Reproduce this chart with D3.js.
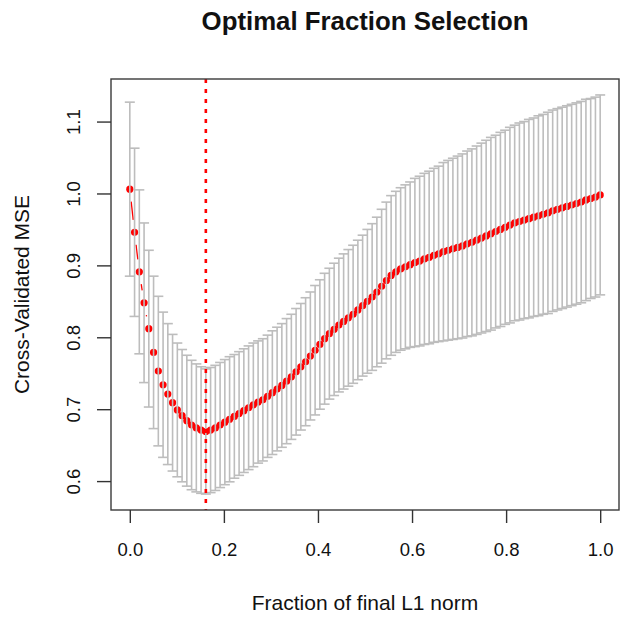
<!DOCTYPE html>
<html>
<head>
<meta charset="utf-8">
<script src="https://cdn.jsdelivr.net/npm/d3@7"></script>
<style>
  html, body { margin: 0; padding: 0; background: #fff; }
  svg { display: block; }
  text { font-family: "Liberation Sans", Arial, Helvetica, sans-serif; fill: #111; }
</style>
</head>
<body>
<svg id="chart" width="620" height="618"></svg>
<script>
// ---- data ----
const title = "Optimal Fraction Selection";
const xLabel = "Fraction of final L1 norm";
const yLabel = "Cross-Validated MSE";
const nPoints = 100;
const fractions = d3.range(nPoints).map(i => i / (nPoints - 1));
const cvMean = [
  1.006, 0.946, 0.891, 0.848, 0.812, 0.779, 0.753, 0.734, 0.721, 0.709,
  0.699, 0.691, 0.684, 0.678, 0.674, 0.671, 0.669, 0.671, 0.674, 0.678,
  0.682, 0.686, 0.690, 0.694, 0.698, 0.702, 0.706, 0.710, 0.713, 0.718,
  0.723, 0.728, 0.733, 0.739, 0.745, 0.752, 0.759, 0.766, 0.774, 0.782,
  0.790, 0.798, 0.805, 0.811, 0.817, 0.822, 0.827, 0.832, 0.838, 0.844,
  0.850, 0.856, 0.863, 0.871, 0.879, 0.886, 0.891, 0.895, 0.898, 0.901,
  0.904, 0.906, 0.909, 0.911, 0.914, 0.916, 0.919, 0.921, 0.923, 0.925,
  0.927, 0.930, 0.932, 0.935, 0.938, 0.941, 0.944, 0.947, 0.950, 0.953,
  0.956, 0.959, 0.961, 0.963, 0.965, 0.967, 0.969, 0.971, 0.973, 0.976,
  0.978, 0.980, 0.982, 0.984, 0.986, 0.988, 0.991, 0.993, 0.995, 0.998
];
const cvError = [
  0.121, 0.117, 0.114, 0.111, 0.109, 0.106, 0.104, 0.101, 0.098, 0.095,
  0.093, 0.092, 0.091, 0.090, 0.089, 0.088, 0.087, 0.087, 0.087, 0.087,
  0.087, 0.087, 0.086, 0.086, 0.086, 0.086, 0.086, 0.085, 0.085, 0.085,
  0.086, 0.086, 0.086, 0.087, 0.087, 0.088, 0.088, 0.089, 0.089, 0.090,
  0.090, 0.091, 0.091, 0.092, 0.093, 0.094, 0.095, 0.096, 0.097, 0.098,
  0.100, 0.102, 0.104, 0.107, 0.109, 0.111, 0.112, 0.113, 0.114, 0.115,
  0.117, 0.118, 0.119, 0.120, 0.121, 0.122, 0.124, 0.125, 0.126, 0.127,
  0.128, 0.129, 0.130, 0.131, 0.132, 0.133, 0.134, 0.134, 0.135, 0.135,
  0.136, 0.136, 0.137, 0.137, 0.138, 0.138, 0.139, 0.139, 0.140, 0.140,
  0.140, 0.140, 0.140, 0.140, 0.140, 0.140, 0.140, 0.139, 0.139, 0.139
];
const xTicks = [0.0, 0.2, 0.4, 0.6, 0.8, 1.0];
const yTicks = [0.6, 0.7, 0.8, 0.9, 1.0, 1.1];

// ---- layout ----
const box = { left: 111, right: 619, top: 79, bottom: 510 };
const svg = d3.select("#chart");

const data = fractions.map((f, i) => ({ f, m: cvMean[i], e: cvError[i] }));

// R-style 4% range extension
function extend(lo, hi) { const r = hi - lo; return [lo - 0.04 * r, hi + 0.04 * r]; }
const x = d3.scaleLinear()
  .domain(extend(d3.min(fractions), d3.max(fractions)))
  .range([box.left, box.right]);
const y = d3.scaleLinear()
  .domain(extend(d3.min(data, d => d.m - d.e), d3.max(data, d => d.m + d.e)))
  .range([box.bottom, box.top]);

// ---- title ----
svg.append("text")
  .attr("x", (box.left + box.right) / 2)
  .attr("y", 30)
  .attr("text-anchor", "middle")
  .style("font-weight", "bold")
  .style("font-size", "25.8px")
  .text(title);

// ---- points + type="b" lines ----
const gap = 12.5;
const gLine = svg.append("g");
for (let i = 0; i < data.length - 1; i++) {
  const x0 = x(data[i].f), y0 = y(data[i].m);
  const x1 = x(data[i + 1].f), y1 = y(data[i + 1].m);
  const dx = x1 - x0, dy = y1 - y0, len = Math.hypot(dx, dy);
  if (len > 2 * gap) {
    const ux = dx / len, uy = dy / len;
    gLine.append("line")
      .attr("x1", x0 + ux * gap).attr("y1", y0 + uy * gap)
      .attr("x2", x1 - ux * gap).attr("y2", y1 - uy * gap)
      .attr("stroke", "#ff0000").attr("stroke-width", 1.3);
  }
}
svg.append("g").selectAll("circle").data(data).join("circle")
  .attr("cx", d => x(d.f))
  .attr("cy", d => y(d.m))
  .attr("r", 3.6)
  .attr("fill", "#ff0000");

// ---- error bars ----
const capHalf = 5;
const gErr = svg.append("g")
  .attr("stroke", "#bdbdbd")
  .attr("stroke-width", 1.6)
  .attr("fill", "none");
const bars = gErr.selectAll("g").data(data).join("g");
bars.append("line")
  .attr("x1", d => x(d.f)).attr("x2", d => x(d.f))
  .attr("y1", d => y(d.m + d.e)).attr("y2", d => y(d.m - d.e));
bars.append("line")
  .attr("x1", d => x(d.f) - capHalf).attr("x2", d => x(d.f) + capHalf)
  .attr("y1", d => y(d.m + d.e)).attr("y2", d => y(d.m + d.e));
bars.append("line")
  .attr("x1", d => x(d.f) - capHalf).attr("x2", d => x(d.f) + capHalf)
  .attr("y1", d => y(d.m - d.e)).attr("y2", d => y(d.m - d.e));

// ---- optimal fraction vertical dotted line ----
const best = data[d3.minIndex(data, d => d.m)];
svg.append("line")
  .attr("x1", x(best.f)).attr("x2", x(best.f))
  .attr("y1", box.top).attr("y2", box.bottom)
  .attr("stroke", "#ff0000")
  .attr("stroke-width", 2.6)
  .attr("stroke-dasharray", "4,6");

// ---- box ----
svg.append("rect")
  .attr("x", box.left).attr("y", box.top)
  .attr("width", box.right - box.left).attr("height", box.bottom - box.top)
  .attr("fill", "none").attr("stroke", "#3a3a3a").attr("stroke-width", 1.4);

// ---- axes ----
const xAxis = svg.append("g")
  .attr("transform", `translate(0,${box.bottom})`)
  .call(d3.axisBottom(x).tickValues(xTicks).tickSize(13).tickPadding(20)
    .tickFormat(d3.format(".1f")));
xAxis.select(".domain").remove();
xAxis.selectAll("line").attr("stroke", "#333").attr("stroke-width", 1.4);
xAxis.selectAll("text").style("font-size", "18.5px").attr("fill", "#111")
  .style("font-family", "Liberation Sans, Arial, sans-serif");

const yAxis = svg.append("g")
  .attr("transform", `translate(${box.left},0)`)
  .call(d3.axisLeft(y).tickValues(yTicks).tickSize(14).tickFormat(d3.format(".1f")));
yAxis.select(".domain").remove();
yAxis.selectAll("line").attr("stroke", "#333").attr("stroke-width", 1.4);
yAxis.selectAll("text")
  .attr("x", null).attr("dy", null)
  .attr("transform", "translate(-31,0) rotate(-90)")
  .attr("text-anchor", "middle")
  .attr("fill", "#111")
  .style("font-size", "18.5px")
  .style("font-family", "Liberation Sans, Arial, sans-serif");

// ---- axis titles ----
svg.append("text")
  .attr("x", (box.left + box.right) / 2)
  .attr("y", 610)
  .attr("text-anchor", "middle")
  .style("font-size", "21px")
  .text(xLabel);
svg.append("text")
  .attr("transform", `translate(29,${(box.top + box.bottom) / 2}) rotate(-90)`)
  .attr("text-anchor", "middle")
  .style("font-size", "21px")
  .text(yLabel);
</script>
</body>
</html>
